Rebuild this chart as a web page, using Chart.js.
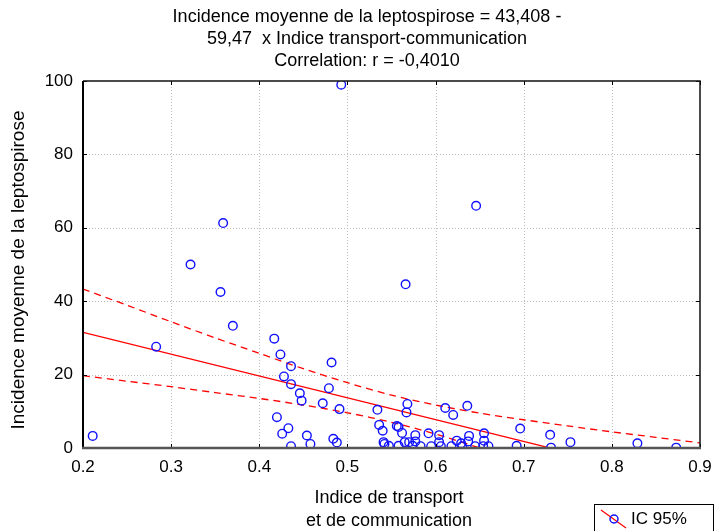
<!DOCTYPE html>
<html><head><meta charset="utf-8">
<script src="https://cdn.jsdelivr.net/npm/chart.js@4/dist/chart.umd.min.js"></script>
<style>html,body{margin:0;padding:0;background:#fff}canvas{display:block}</style>
</head><body>
<canvas id="c" width="714" height="531"></canvas>
<script>
// ---- data ----
const titleLines = ["Incidence moyenne de la leptospirose = 43,408 -", "59,47  x Indice transport-communication", "Correlation: r = -0,4010"];
const yAxisTitle = "Incidence moyenne de la leptospirose";
const xAxisTitleLines = ["Indice de transport", "et de communication"];
const legendLabel = "IC 95%";
const xTickValues = [0.2, 0.3, 0.4, 0.5, 0.6, 0.7, 0.8, 0.9];
const yTickValues = [0, 20, 40, 60, 80, 100];

const pointsX = [0.211,0.283,0.322,0.356,0.359,0.370,0.417,0.424,0.436,0.428,0.436,0.446,0.448,0.420,0.433,0.426,0.436,0.454,0.458,0.472,0.479,0.482,0.491,0.484,0.488,0.493,0.534,0.536,0.540,0.541,0.542,0.547,0.556,0.558,0.558,0.562,0.565,0.566,0.567,0.568,0.570,0.574,0.577,0.577,0.583,0.592,0.595,0.604,0.604,0.606,0.611,0.618,0.620,0.624,0.629,0.630,0.636,0.637,0.638,0.645,0.646,0.655,0.655,0.654,0.660,0.692,0.696,0.730,0.731,0.753,0.829,0.873];
const pointsY = [3.3,27.6,50.0,42.5,61.3,33.3,29.8,25.5,22.3,19.5,17.4,14.9,12.9,8.4,5.4,3.9,0.5,3.4,1.1,12.2,16.3,23.3,10.6,2.5,1.5,99.0,10.4,6.3,4.7,1.6,1.1,0.6,6.0,5.7,0.6,4.1,1.6,44.6,9.7,12.0,1.6,0.6,3.5,1.8,0.5,4.0,0.5,3.5,1.6,0.5,10.9,0.5,9.0,2.0,1.3,0.5,11.5,1.8,3.3,0.5,66.0,4.0,2.0,0.5,0.5,0.6,5.3,3.6,0.1,1.6,1.3,0.1];

const fitX = [0.2, 0.9];
const fitY = [31.5, -10.1];

const bandX = [0.2,0.25,0.3,0.35,0.4,0.45,0.5,0.55,0.6,0.65,0.7,0.75,0.8,0.85,0.9];
const bandUpper = [43.3,38.9,34.4,30.0,25.8,21.6,17.8,14.4,11.7,9.5,7.7,6.0,4.4,2.9,1.4];
const bandLower = [19.7,18.2,16.7,15.1,13.5,11.7,9.6,7.0,3.8,0.0,-4.1,-8.4,-12.7,-17.2,-21.6];

// ---- build ----
const zip = (xs, ys) => xs.map((v, i) => ({x: v, y: ys[i]}));
const FONT = "'Liberation Sans', Arial, sans-serif";
Chart.defaults.font.family = FONT;
Chart.defaults.color = '#000';

const RED = '#ff0000', BLUE = '#1010ff';

const decor = {
  id: 'decor',
  beforeDatasetsDraw(chart) {
    const {ctx, chartArea: a, scales: {x, y}} = chart;
    ctx.save();
    ctx.strokeStyle = '#bdbdbd'; ctx.lineWidth = 1; ctx.setLineDash([1, 2]);
    xTickValues.forEach(v => {
      const p = Math.round(x.getPixelForValue(v)) + 0.5;
      if (p <= a.left + 1 || p >= a.right - 1) return;
      ctx.beginPath(); ctx.moveTo(p, a.top); ctx.lineTo(p, a.bottom); ctx.stroke();
    });
    yTickValues.forEach(v => {
      const p = Math.round(y.getPixelForValue(v)) + 0.5;
      if (p <= a.top + 1 || p >= a.bottom - 1) return;
      ctx.beginPath(); ctx.moveTo(a.left, p); ctx.lineTo(a.right, p); ctx.stroke();
    });
    ctx.restore();
  },
  afterDatasetsDraw(chart) {
    const {ctx, chartArea: a, scales: {x, y}} = chart;
    ctx.save();
    ctx.setLineDash([]);
    // inward ticks
    ctx.strokeStyle = '#000'; ctx.lineWidth = 1;
    xTickValues.forEach(v => {
      const p = Math.round(x.getPixelForValue(v)) + 0.5;
      ctx.beginPath(); ctx.moveTo(p, a.top); ctx.lineTo(p, a.top + 4); ctx.stroke();
      ctx.beginPath(); ctx.moveTo(p, a.bottom); ctx.lineTo(p, a.bottom - 4); ctx.stroke();
    });
    yTickValues.forEach(v => {
      const p = Math.round(y.getPixelForValue(v)) + 0.5;
      ctx.beginPath(); ctx.moveTo(a.left, p); ctx.lineTo(a.left + 4, p); ctx.stroke();
      ctx.beginPath(); ctx.moveTo(a.right, p); ctx.lineTo(a.right - 4, p); ctx.stroke();
    });
    // frame
    ctx.lineWidth = 1.5; ctx.strokeStyle = '#111';
    ctx.beginPath(); ctx.moveTo(a.left, a.top); ctx.lineTo(a.right, a.top); ctx.lineTo(a.right, a.bottom); ctx.stroke();
    ctx.lineWidth = 2; ctx.strokeStyle = '#000';
    ctx.beginPath(); ctx.moveTo(a.left, a.bottom); ctx.lineTo(a.left, a.top); ctx.stroke();
    ctx.strokeStyle = '#555'; ctx.lineWidth = 2.5;
    ctx.beginPath(); ctx.moveTo(a.left - 1, a.bottom); ctx.lineTo(a.right + 1, a.bottom); ctx.stroke();

    // titles
    ctx.fillStyle = '#000';
    ctx.font = '18px ' + FONT;
    ctx.textAlign = 'center'; ctx.textBaseline = 'alphabetic';
    titleLines.forEach((t, i) => ctx.fillText(t, 367, 22 + i * 22.2));
    ctx.font = '18px ' + FONT;
    ctx.textBaseline = 'middle';
    xAxisTitleLines.forEach((t, i) => ctx.fillText(t, 389, 498 + i * 23));
    ctx.save();
    ctx.font = '19px ' + FONT;
    ctx.translate(19, 270); ctx.rotate(-Math.PI / 2);
    ctx.fillText(yAxisTitle, 0, 0);
    ctx.restore();

    // legend
    ctx.lineWidth = 1; ctx.strokeStyle = '#000';
    ctx.strokeRect(594.5, 504.5, 119, 30);
    ctx.strokeStyle = RED; ctx.lineWidth = 1.2;
    ctx.beginPath(); ctx.moveTo(601, 510); ctx.lineTo(626, 528); ctx.stroke();
    ctx.strokeStyle = BLUE; ctx.lineWidth = 1.5;
    ctx.beginPath(); ctx.arc(614, 519, 4, 0, Math.PI * 2); ctx.stroke();
    ctx.fillStyle = '#000'; ctx.textAlign = 'left'; ctx.font = '17px ' + FONT;
    ctx.fillText(legendLabel, 631, 519);
    ctx.restore();
  }
};

new Chart(document.getElementById('c'), {
  type: 'scatter',
  data: {
    datasets: [
      {label: 'pts', data: zip(pointsX, pointsY), showLine: false, pointRadius: 4.3, pointHoverRadius: 4.3,
       pointBorderColor: BLUE, pointBackgroundColor: 'rgba(0,0,0,0)', pointBorderWidth: 1.4, clip: 0, order: 1},
      {type: 'line', label: 'fit', data: zip(fitX, fitY), borderColor: RED, borderWidth: 1.3, pointRadius: 0, clip: 0, fill: false, order: 2},
      {type: 'line', label: 'upper', data: zip(bandX, bandUpper), borderColor: RED, borderWidth: 1.3, borderDash: [7, 5], pointRadius: 0, tension: 0.3, clip: 0, fill: false, order: 3},
      {type: 'line', label: 'lower', data: zip(bandX, bandLower), borderColor: RED, borderWidth: 1.3, borderDash: [7, 5], pointRadius: 0, tension: 0.3, clip: 0, fill: false, order: 4}
    ]
  },
  options: {
    responsive: false, animation: false, devicePixelRatio: 1,
    layout: {padding: {top: 81, right: 14, left: 0, bottom: 0}},
    plugins: {legend: {display: false}, title: {display: false}, tooltip: {enabled: false}},
    scales: {
      x: {type: 'linear', min: 0.2, max: 0.9,
          afterBuildTicks: s => { s.ticks = xTickValues.map(v => ({value: v})); },
          afterFit: s => { s.height = 83; s.paddingRight = 0; s.paddingLeft = 0; },
          grid: {display: false, drawTicks: false}, border: {display: false},
          ticks: {padding: 9, font: {size: 17}, color: '#000', callback: v => v.toFixed(1), autoSkip: false, maxRotation: 0}},
      y: {type: 'linear', min: 0, max: 100,
          afterBuildTicks: s => { s.ticks = yTickValues.map(v => ({value: v})); },
          afterFit: s => { s.width = 83; s.paddingTop = 0; s.paddingBottom = 0; },
          grid: {display: false, drawTicks: false}, border: {display: false},
          ticks: {padding: 10, font: {size: 17}, color: '#000', callback: v => String(v)}}
    }
  },
  plugins: [decor]
});
</script>
</body></html>
